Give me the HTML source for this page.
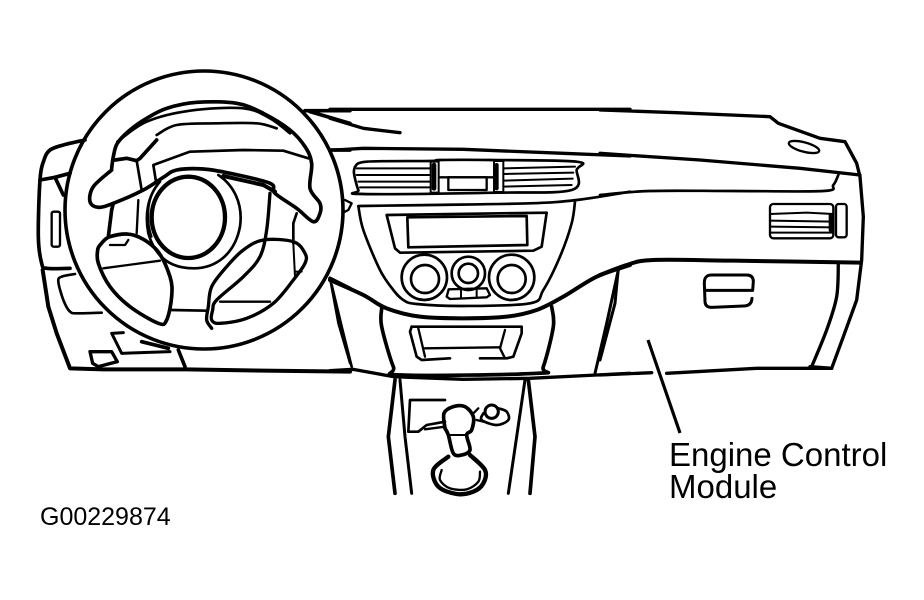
<!DOCTYPE html>
<html><head><meta charset="utf-8"><style>
html,body{margin:0;padding:0;background:#fff;width:924px;height:600px;overflow:hidden}
svg{display:block}
polyline,path,circle,ellipse,rect,polygon{fill:none;stroke:#000;stroke-linejoin:round;stroke-linecap:round}
text{font-family:"Liberation Sans",sans-serif;fill:#000}
</style></head><body>
<svg width="924" height="600" viewBox="0 0 924 600" xmlns="http://www.w3.org/2000/svg">
<!-- zoom 1 region -->
<g transform="translate(30 90) scale(.33333)" stroke-width="11">
<polyline class="c" points="165,150 100,165 60,180 42,210 30,270 25,440 35,520 50,535 120,535"/>
<polyline points="30,270 75,262 120,250"/>
<polyline points="75,262 100,315"/>
<rect x="65" y="365" width="25" height="105" rx="6" stroke-width="7"/>
<polyline points="38,540 55,650 80,730 120,835 220,838 470,838 700,842 960,845" stroke-width="12"/>
<polyline class="c" points="135,552 95,560 85,575 100,630 120,665 145,670 215,668" stroke-width="8"/>
<polyline points="280,728 245,730 275,790 420,785" stroke-width="9"/>
<polygon points="180,785 245,785 262,815 205,830 188,820" stroke-width="10"/>
<polyline points="445,780 465,830"/>
<polyline points="335,755 415,775"/>
<polyline points="825,62 960,62"/>
<polyline points="840,65 960,100"/>
<polyline points="905,180 960,180"/>
<polyline points="900,565 960,595" />
<polyline points="900,565 925,700 960,820" stroke-width="7"/>
<!-- inner rim -->
<polyline class="c" points="245,235 250,200 262,160 300,120 350,85 410,55 500,37 620,40 700,70 780,120 825,170 845,220 840,295 870,340 870,370 850,395 800,355 735,310 720,280 600,250 520,237 440,240 400,262 340,300 250,340 205,352 180,335 190,290 245,240"/>
<polyline class="c" points="262,155 350,95 480,62 640,55 720,85 780,130" stroke-width="8"/>
<polyline class="c" points="380,135 440,105 560,100 680,100 740,115" stroke-width="8"/>
<polyline points="380,150 330,205 320,212 290,205 255,210"/>
<polyline points="320,212 335,300" stroke-width="8"/>
<polyline points="378,275 370,225 480,185 640,180 760,182 835,205" stroke-width="8"/>
<polyline points="580,258 700,285 735,305" stroke-width="12"/>
<!-- hub circles -->
<ellipse cx="475" cy="382" rx="110" ry="122" stroke-width="13"/>
<path d="M565,255 C610,285 640,340 630,410 C615,490 560,535 490,535 C420,535 375,500 355,430 C345,380 350,320 390,275" stroke-width="8"/>
<path d="M372,300 C350,340 350,400 365,440" stroke-width="6"/>
<!-- spokes -->
<polyline points="235,440 245,360 250,340"/>
<polyline points="320,430 325,330" stroke-width="7"/>
<polyline class="c" points="210,465 240,440 310,435 380,480 420,560 425,620 410,690 385,700 300,650 240,590 205,520 203,480 210,465"/>
<polyline points="220,535 390,512" stroke-width="7"/>
<polyline points="240,465 285,465 295,450" stroke-width="7"/>
<polyline points="425,660 530,662" stroke-width="8"/>
<polyline class="c" points="545,715 530,690 535,650 545,590 590,530 640,480 700,450 790,455 825,490 825,520 790,570 730,640 650,685 570,700 545,690 548,660 560,630 640,560 690,500 710,420 720,310" stroke-width="10"/>
<polyline points="570,635 720,635" stroke-width="7"/>
<polyline points="790,460 790,400 800,370" stroke-width="8"/>
<polyline points="795,545 815,545" stroke-width="6"/>
<polyline points="790,460 795,560" stroke-width="6"/>
</g>
<circle cx="204" cy="210" r="139" stroke-width="3.6"/>

<!-- zoom 2 region -->
<g transform="translate(330 100) scale(.33333)" stroke-width="10">
<polyline points="0,28 900,28"/>
<polyline points="0,55 100,85 210,98" stroke-width="10"/>
<polyline points="15,150 100,145 400,148 700,160 900,168"/>
<polyline class="c" points="75,200 110,185 300,183 330,180 480,180 740,185 740,210 725,270 500,278 100,282 85,270 72,220 75,200" stroke-width="8"/>
<polyline points="80,205 300,205" stroke-width="6"/>
<polyline points="80,225 300,225" stroke-width="6"/>
<polyline points="85,245 300,245" stroke-width="6"/>
<polyline points="90,262 300,262" stroke-width="6"/>
<polyline points="520,205 735,200" stroke-width="6"/>
<polyline points="520,222 730,218" stroke-width="6"/>
<polyline points="520,242 728,236" stroke-width="6"/>
<polyline points="520,260 725,255" stroke-width="6"/>
<rect x="302" y="185" width="24" height="93" stroke-width="6"/>
<rect x="492" y="183" width="28" height="93" stroke-width="6"/>
<polyline points="312,195 312,265" stroke-width="14"/>
<polyline points="500,195 500,265" stroke-width="12"/>
<polyline points="330,232 490,232" stroke-width="7"/>
<rect x="355" y="232" width="115" height="38" stroke-width="7"/>
<polyline points="45,300 65,310 55,330 45,335" stroke-width="7"/>
<polyline class="c" points="90,318 300,315 600,310 740,300 900,275" stroke-width="8"/>
<polyline class="c" points="85,318 100,390 150,510 190,570 220,600 260,612 400,618 600,610 640,570 690,470 725,370 735,305" stroke-width="8"/>
<polyline points="170,345 650,338 635,440 610,452 210,458 195,445 170,345" stroke-width="8"/>
<polygon points="232,352 590,348 592,435 235,442" stroke-width="8"/>
<circle cx="283" cy="532" r="68" stroke-width="8"/>
<circle cx="285" cy="537" r="42" stroke-width="8"/>
<circle cx="415" cy="520" r="50" stroke-width="8"/>
<circle cx="415" cy="520" r="29" stroke-width="8"/>
<circle cx="545" cy="532" r="68" stroke-width="8"/>
<circle cx="545" cy="537" r="42" stroke-width="8"/>
<polygon points="350,590 356,568 470,565 480,585 470,592 360,597" stroke-width="7"/>
<polyline points="393,568 393,592" stroke-width="6"/>
<polyline points="440,566 440,592" stroke-width="6"/>
<polyline class="c" points="0,540 100,585 170,625 270,650 400,655 530,650 620,630 700,590 800,530 900,495" stroke-width="12"/>
<polyline class="c" points="155,625 155,680 190,800 215,825 620,820 640,800 670,680 665,620" stroke-width="11"/>
<polyline points="245,680 575,680 575,700 550,770 530,775 450,775" stroke-width="8"/>
<polyline points="360,775 275,780 260,770 240,695 245,680" stroke-width="8"/>
<polyline points="265,685 285,770" stroke-width="7"/>
<polyline points="285,745 510,742" stroke-width="7"/>
<polyline points="525,690 510,745 525,775" stroke-width="7"/>
<polyline points="5,555 35,680 65,800" stroke-width="8"/>
<polyline points="865,510 830,670 795,820" stroke-width="9"/>
<polyline points="0,812 70,808 190,830 400,838 600,835 800,825 900,820" stroke-width="10"/>
</g>

<!-- zoom 3 region -->
<g transform="translate(600 110) scale(.33333)" stroke-width="10">
<polyline points="0,0 230,8 510,20 535,40 660,85 735,95 770,160 780,200 790,320 785,450 770,570 730,680 695,775 630,770"/>
<polyline points="0,130 300,150 600,175 780,195"/>
<ellipse cx="612" cy="111" rx="47" ry="14" transform="rotate(15 612 111)" stroke-width="7"/>
<polyline class="c" points="0,255 150,243 400,243 670,243 700,225 715,195" stroke-width="8"/>
<rect x="510" y="282" width="190" height="103" rx="10" stroke-width="7"/>
<polyline points="510,312 620,308 700,312" stroke-width="6"/>
<polyline points="510,332 700,335" stroke-width="6"/>
<polyline points="510,350 700,352" stroke-width="6"/>
<polyline points="510,368 700,368" stroke-width="6"/>
<polyline points="692,315 692,360" stroke-width="12"/>
<rect x="708" y="282" width="32" height="100" rx="8" stroke-width="7"/>
<polyline class="c" points="0,495 80,465 160,450 400,452 780,458" stroke-width="12"/>
<path d="M318,541 L458,541 L460,515 Q460,495 440,495 L335,495 Q312,495 313,520 L315,575 Q316,592 335,592 L430,588 Q455,588 456,565" stroke-width="9"/>
<polyline class="c" points="715,460 710,560 680,660 635,770" stroke-width="10"/>
<polyline points="55,475 45,580 0,750" stroke-width="9"/>
<polyline points="0,795 155,788" stroke-width="10"/>
<polyline points="200,790 470,775 695,775" stroke-width="10"/>
</g>
<line x1="648" y1="340" x2="680" y2="433" stroke="#000" stroke-width="3.2"/>

<!-- zoom 4 region -->
<g transform="translate(370 370) scale(.33333)" stroke-width="9">
<polyline points="75,30 55,200 75,370" stroke-width="11"/>
<polyline points="90,30 105,200 125,370" stroke-width="9"/>
<polyline points="465,30 440,200 415,370" stroke-width="9"/>
<polyline points="475,30 495,200 480,370" stroke-width="11"/>
<polyline points="225,90 120,90 115,185 145,185 170,165 225,155" stroke-width="8"/>
<polyline points="165,178 225,170" stroke-width="7"/>
<polyline class="c" points="225,175 222,130 250,110 285,110 310,140 305,180 290,195 300,240 275,255 250,250 235,195 225,175" stroke-width="11"/>
<polyline points="240,195 290,195" stroke-width="6"/>
<polyline class="c" points="300,255 345,300 340,340 310,365 260,372 205,350 190,300 235,260" stroke-width="13"/>
<polyline class="c" points="215,300 210,330 240,355 290,358 325,335 330,305" stroke-width="7"/>
<circle cx="365" cy="125" r="20" stroke-width="9"/>
<polyline class="c" points="340,130 335,150 380,165 415,150 410,125 385,115" stroke-width="8"/>
<polyline points="310,130 325,115" stroke-width="7"/>
<polyline points="320,150 340,155" stroke-width="7"/>
</g>

<text x="669" y="466" font-size="33">Engine Control</text>
<text x="669" y="498" font-size="33">Module</text>
<text x="40" y="525" font-size="25">G00229874</text>
</svg>
<script>
document.querySelectorAll('polyline.c').forEach(function(el){
  var n=el.getAttribute('points').trim().split(/\s+/).map(function(s){return s.split(',').map(Number)});
  var d='M'+n[0][0]+','+n[0][1];
  for(var i=0;i<n.length-1;i++){
    var p0=n[Math.max(i-1,0)],p1=n[i],p2=n[i+1],p3=n[Math.min(i+2,n.length-1)];
    d+=' C'+(p1[0]+(p2[0]-p0[0])/6)+','+(p1[1]+(p2[1]-p0[1])/6)+' '+(p2[0]-(p3[0]-p1[0])/6)+','+(p2[1]-(p3[1]-p1[1])/6)+' '+p2[0]+','+p2[1];
  }
  var path=document.createElementNS('http://www.w3.org/2000/svg','path');
  path.setAttribute('d',d);
  if(el.getAttribute('stroke-width'))path.setAttribute('stroke-width',el.getAttribute('stroke-width'));
  el.parentNode.replaceChild(path,el);
});
</script>
</body></html>
